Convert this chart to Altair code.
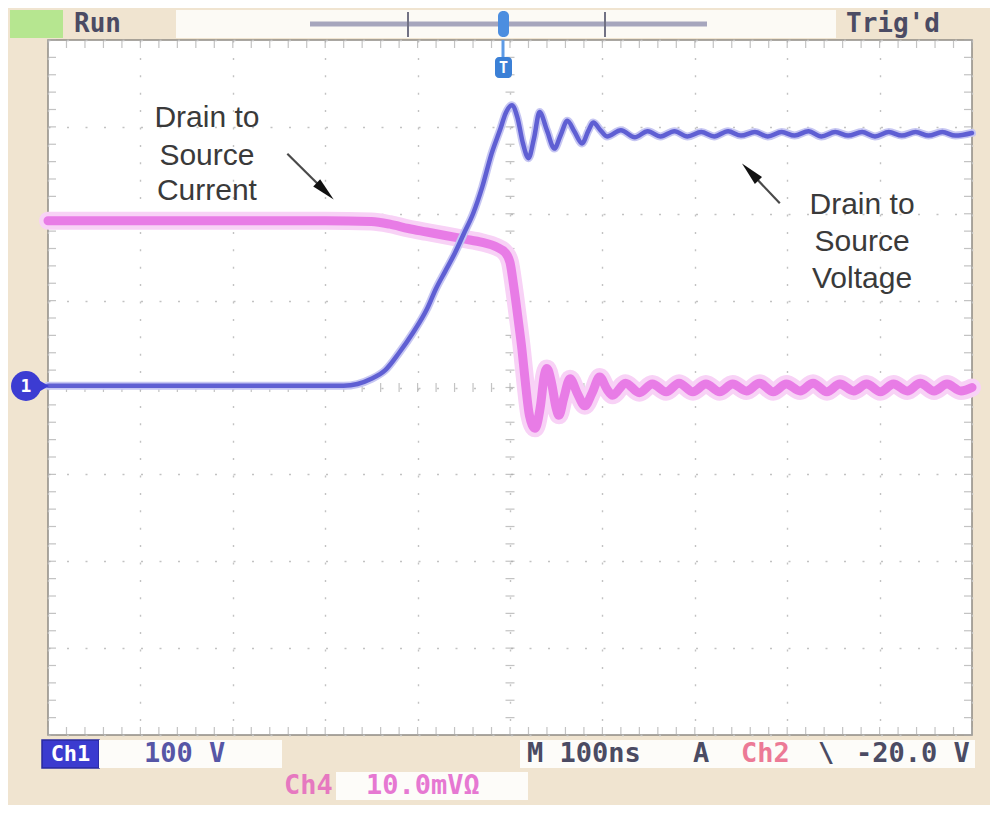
import altair as alt
import pandas as pd

# ---------------- data (time in ns, 100 ns/div ; amplitude in screen divisions) -------------
# Ch1 : drain-to-source voltage (100 V/div)
v_time = [-500, -180, -165, -150, -135, -120, -105, -90, -80, -70, -60, -50, -40, -30, -20,
          -10, -5, 2, 8, 14, 20, 26, 32, 40, 48, 55, 62, 70, 78, 85, 90, 98, 105,
          120, 135, 149, 163, 178, 192, 207, 221, 236, 250, 265, 279, 294, 308, 323, 337,
          352, 366, 381, 395, 410, 424, 439, 453, 468, 482, 500]
v_div = [0.02, 0.02, 0.04, 0.10, 0.20, 0.40, 0.63, 0.90, 1.14, 1.34, 1.54, 1.77, 2.00, 2.31, 2.69,
         2.99, 3.15, 3.25, 3.11, 2.81, 2.64, 2.87, 3.17, 2.96, 2.75, 2.91, 3.07, 2.94, 2.81, 2.96, 3.05, 2.96, 2.89,
         2.96, 2.88, 2.95, 2.89, 2.95, 2.89, 2.94, 2.89, 2.95, 2.90, 2.94, 2.89, 2.94, 2.90, 2.95, 2.89,
         2.94, 2.90, 2.94, 2.89, 2.94, 2.90, 2.94, 2.90, 2.94, 2.90, 2.93]

# Ch4 : drain-to-source current (10.0 mV/Ohm per div)
i_time = [-500, -200, -150, -130, -110, -90, -70, -50, -30, -15, -5, 0, 4, 9, 13, 17, 21, 27,
          33, 37, 40, 45, 50, 53, 58, 65, 73, 81, 89, 97, 105, 111,
          125, 140, 154, 169, 183, 198, 212, 227, 241, 256, 270, 285, 299, 314, 328, 343,
          357, 372, 386, 401, 415, 430, 444, 459, 473, 488, 500]
i_div = [1.92, 1.92, 1.91, 1.88, 1.83, 1.79, 1.75, 1.71, 1.67, 1.62, 1.55, 1.44, 1.17, 0.77, 0.43, 0.02, -0.32, -0.47,
         -0.21, 0.13, 0.22, 0.05, -0.24, -0.32, -0.13, 0.10, -0.07, -0.21, -0.06, 0.12, -0.02, -0.09,
         0.05, -0.06, 0.04, -0.05, 0.05, -0.05, 0.04, -0.05, 0.04, -0.04, 0.05, -0.05, 0.04, -0.04, 0.05, -0.05,
         0.04, -0.04, 0.04, -0.05, 0.04, -0.04, 0.05, -0.04, 0.04, -0.04, 0.00]

# graticule
grid_t = [-500, -400, -300, -200, -100, 0, 100, 200, 300, 400, 500]
grid_v = [-4, -3, -2, -1, 0, 1, 2, 3, 4]
minor_t = list(range(-500, 501, 20))
minor_v = [round(-4 + 0.2 * k, 1) for k in range(41)]

# annotations
label_text = ["Drain to", "Source", "Current", "Drain to", "Source", "Voltage"]
label_t = [-328, -328, -328, 381, 381, 381]
label_v = [3.10, 2.67, 2.26, 2.10, 1.68, 1.25]

arrow_tail_t = [-241, 292]
arrow_tail_v = [2.69, 2.12]
arrow_head_t = [-200, 260]
arrow_head_v = [2.26, 2.48]
arrow_angle = [134, 316]

# ---------------- layout ----------------
W, H = 924, 695
PX0, PY0 = 48, 40          # page position of the screen (plot) area
SCOPE_FONT = "DejaVu Sans Mono"
ANN_FONT = "Liberation Sans"

xs = alt.Scale(domain=[-500, 500], nice=False, zero=False)
ys = alt.Scale(domain=[-4, 4], nice=False, zero=False)
xaxis = alt.Axis(values=grid_t, grid=True, gridColor="#c2c2c2", gridDash=[2, 15.4], gridWidth=1.4,
                 labels=False, ticks=False, domain=False, title=None)
yaxis = alt.Axis(values=grid_v, grid=True, gridColor="#c2c2c2", gridDash=[2, 16.5], gridWidth=1.4,
                 labels=False, ticks=False, domain=False, title=None)


def X(f):
    return alt.X(f, type="quantitative", scale=xs, axis=xaxis)


def Y(f):
    return alt.Y(f, type="quantitative", scale=ys, axis=yaxis)


ONE = pd.DataFrame({"k": [0]})


def rect(x1, y1, x2, y2, fill, stroke=None, sw=1, r=0):
    kw = dict(fill=fill, cornerRadius=r)
    if stroke:
        kw.update(stroke=stroke, strokeWidth=sw)
    return alt.Chart(ONE).mark_rect(**kw).encode(
        x=alt.value(x1 - PX0), x2=alt.value(x2 - PX0),
        y=alt.value(y1 - PY0), y2=alt.value(y2 - PY0))


def text(s, x, y, size, color, align="left", weight="bold", font=SCOPE_FONT):
    return alt.Chart(ONE).mark_text(text=s, align=align, baseline="middle", fontSize=size,
                                    fontWeight=weight, font=font, color=color).encode(
        x=alt.value(x - PX0), y=alt.value(y - PY0))


def seg(x1, y1, x2, y2, color, w):
    return alt.Chart(ONE).mark_rule(color=color, strokeWidth=w).encode(
        x=alt.value(x1 - PX0), x2=alt.value(x2 - PX0),
        y=alt.value(y1 - PY0), y2=alt.value(y2 - PY0))


layers = []

# graticule tick marks (centre cross + frame edges)
tick_col = "#a9a9a9"
h_center = pd.DataFrame({"t": minor_t, "v": [0] * len(minor_t)})
v_center = pd.DataFrame({"t": [0] * len(minor_v), "v": minor_v})
top_edge = pd.DataFrame({"t": minor_t, "v": [4] * len(minor_t)})
bot_edge = pd.DataFrame({"t": minor_t, "v": [-4] * len(minor_t)})
left_edge = pd.DataFrame({"t": [-500] * len(minor_v), "v": minor_v})
right_edge = pd.DataFrame({"t": [500] * len(minor_v), "v": minor_v})

layers.append(alt.Chart(h_center).mark_tick(orient="vertical", size=9, thickness=1.2, color=tick_col)
              .encode(x=X("t"), y=Y("v")))
layers.append(alt.Chart(v_center).mark_tick(orient="horizontal", size=9, thickness=1.2, color=tick_col)
              .encode(x=X("t"), y=Y("v")))
layers.append(alt.Chart(top_edge).mark_tick(orient="vertical", size=8, thickness=1.2, color=tick_col, yOffset=4)
              .encode(x=X("t"), y=Y("v")))
layers.append(alt.Chart(bot_edge).mark_tick(orient="vertical", size=8, thickness=1.2, color=tick_col, yOffset=-4)
              .encode(x=X("t"), y=Y("v")))
layers.append(alt.Chart(left_edge).mark_tick(orient="horizontal", size=8, thickness=1.2, color=tick_col, xOffset=4)
              .encode(x=X("t"), y=Y("v")))
layers.append(alt.Chart(right_edge).mark_tick(orient="horizontal", size=8, thickness=1.2, color=tick_col, xOffset=-4)
              .encode(x=X("t"), y=Y("v")))

# waveforms
vdf = pd.DataFrame({"t": v_time, "v": v_div})
idf = pd.DataFrame({"t": i_time, "v": i_div})
layers.append(alt.Chart(idf).mark_line(color="#f8d2f6", strokeWidth=18, interpolate="monotone",
                                       strokeCap="round", strokeJoin="round").encode(x=X("t"), y=Y("v")))
layers.append(alt.Chart(idf).mark_line(color="#e87ce6", strokeWidth=9, interpolate="monotone",
                                       strokeCap="round", strokeJoin="round").encode(x=X("t"), y=Y("v")))
layers.append(alt.Chart(vdf).mark_line(color="#c6c6f2", strokeWidth=8, interpolate="monotone",
                                       strokeCap="round", strokeJoin="round").encode(x=X("t"), y=Y("v")))
layers.append(alt.Chart(vdf).mark_line(color="#5f5fd3", strokeWidth=4.5, interpolate="monotone",
                                       strokeCap="round", strokeJoin="round").encode(x=X("t"), y=Y("v")))

# annotations
ann = pd.DataFrame({"t": label_t, "v": label_v, "label": label_text})
layers.append(alt.Chart(ann).mark_text(font=ANN_FONT, fontSize=30, color="#3a3a3a", align="center",
                                       baseline="middle").encode(x=X("t"), y=Y("v"), text="label:N"))
arr = pd.DataFrame({"t": arrow_tail_t, "v": arrow_tail_v, "t2": arrow_head_t, "v2": arrow_head_v,
                    "angle": arrow_angle})
layers.append(alt.Chart(arr).mark_rule(color="#4a4a4a", strokeWidth=2.2).encode(
    x=X("t"), y=Y("v"), x2="t2:Q", y2="v2:Q"))
layers.append(alt.Chart(arr).mark_point(shape="M0,-1L0.42,1L-0.42,1Z", filled=True, opacity=1,
                                        color="#111111", size=560).encode(
    x=X("t2"), y=Y("v2"), angle=alt.Angle("angle:Q", scale=None)))

# ---------------- oscilloscope chrome ----------------
# top status bar
layers.append(rect(10, 10, 63, 38, "#b6e690"))
layers.append(text("Run", 74, 24, 26, "#4b4b63"))
layers.append(rect(176, 10, 836, 38, "#fcfaf5"))
layers.append(seg(310, 24, 707, 24, "#a6a6bd", 5))
layers.append(seg(408, 12, 408, 37, "#727284", 2))
layers.append(seg(605, 12, 605, 37, "#727284", 2))
layers.append(rect(498, 11, 509, 37, "#4c8ee0", r=5))
layers.append(text("Trig'd", 846, 24, 26, "#4b4b63"))

# trigger position marker
layers.append(seg(503, 40, 503, 57, "#5d9be6", 3))
layers.append(rect(495, 57, 512, 78, "#3b80d6", r=4))
layers.append(text("T", 503.5, 68, 15, "white", align="center"))

# channel 1 ground marker
gnd = pd.DataFrame({"k": [0]})
layers.append(alt.Chart(gnd).mark_point(shape="triangle-right", filled=True, opacity=1, color="#3c3cd2",
                                        size=260).encode(x=alt.value(42 - PX0), y=alt.value(386 - PY0)))
layers.append(alt.Chart(gnd).mark_point(shape="circle", filled=True, opacity=1, color="#3c3cd2",
                                        size=900).encode(x=alt.value(26 - PX0), y=alt.value(386 - PY0)))
layers.append(text("1", 26, 387, 18, "white", align="center"))

# bottom status bar
layers.append(rect(42, 740, 99, 768, "#3b3bcf", stroke="#2a2a9e", sw=1.5))
layers.append(text("Ch1", 70.5, 754, 22, "white", align="center"))
layers.append(rect(99, 740, 282, 768, "#fdfcf9"))
layers.append(text("100 V", 144, 754, 27, "#5656a6"))
layers.append(rect(520, 740, 975, 768, "#fdfcf9"))
layers.append(text("M 100ns", 527, 754, 27, "#4b4b63"))
layers.append(text("A", 693, 754, 27, "#4b4b63"))
layers.append(text("Ch2", 741, 754, 27, "#ec7a96"))
layers.append(text("\\", 818, 754, 27, "#4b4b63"))
layers.append(text("-20.0 V", 856, 754, 27, "#4b4b63"))
layers.append(text("Ch4", 284, 786, 27, "#e678c0"))
layers.append(rect(336, 772, 528, 800, "#fdfcf9"))
layers.append(text("10.0mVΩ", 366, 786, 27, "#e678d2"))

chart = alt.layer(*layers).properties(
    width=W, height=H,
    autosize=alt.AutoSizeParams(type="none"),
    padding={"left": 40, "top": 32, "right": 18, "bottom": 70},
    background="#f0e4d0",
).configure_view(stroke="#8f8a84", strokeWidth=1.5, fill="white")

chart.save("out.html", embed_options={"renderer": "svg", "actions": False})
